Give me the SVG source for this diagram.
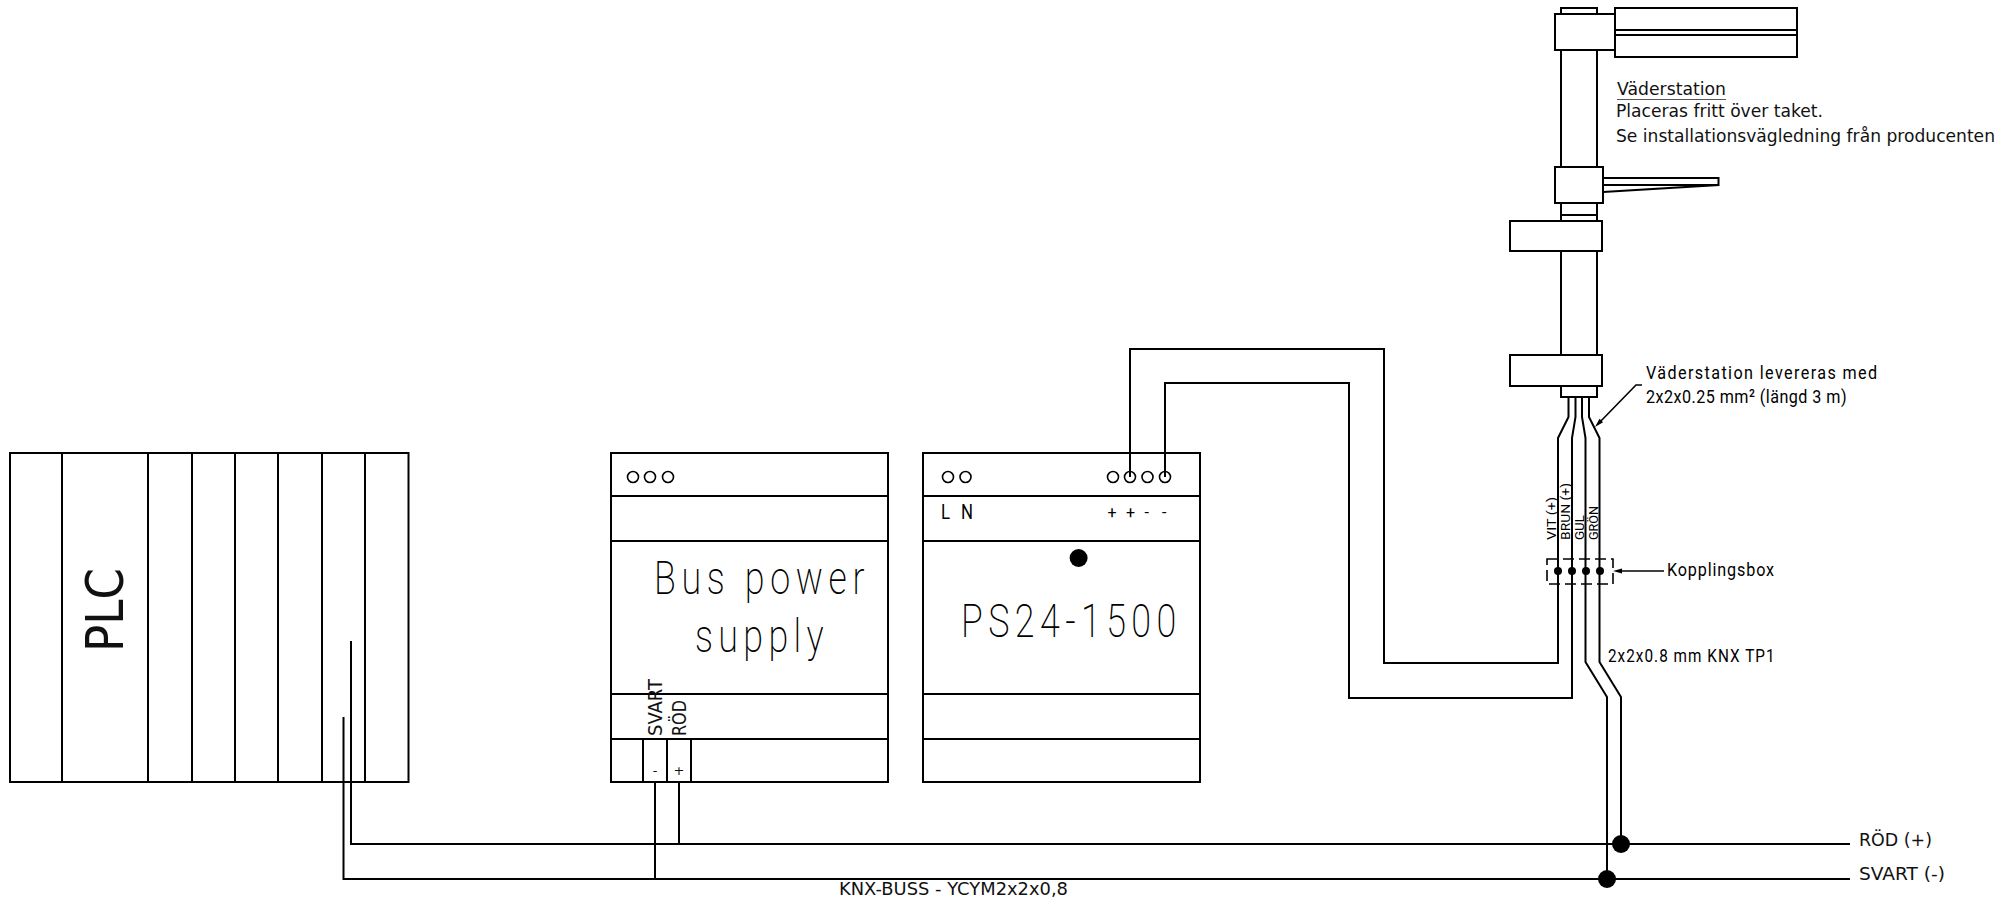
<svg xmlns="http://www.w3.org/2000/svg" width="2015" height="899" viewBox="0 0 2015 899">
<style>
.s{fill:none;stroke:#000;stroke-width:2}
.w{fill:#fff;stroke:#000;stroke-width:2}
.t{fill:none;stroke:#000;stroke-width:1.6}
.d{fill:#000;stroke:none}
.v{font-family:"DejaVu Sans",Verdana,sans-serif;fill:#111}
.n{font-family:"Roboto","Liberation Sans",sans-serif;font-weight:400;fill:#000}
.h{font-family:"Roboto","Liberation Sans",sans-serif;font-weight:200;fill:#000}
</style>
<rect width="2015" height="899" fill="#fff"/>
<g id="connectors">
<path class="s" d="M351 641V844H1850"/>
<path class="s" d="M343.500 717V879H1850"/>
<path class="s" d="M655 782V879M679 782V844"/>
<path class="s" d="M1130 477V349H1384V663H1558V438L1568.500 417V397"/>
<path class="s" d="M1165 477V383H1349V698H1572V438L1575.500 417V397"/>
<path class="s" d="M1582 397V417L1585.500 438V662L1607 697V879"/>
<path class="s" d="M1589 397V417L1599.500 438V662L1621 697V844"/>
<circle class="d" cx="1621" cy="844" r="9"/>
<circle class="d" cx="1607" cy="879" r="9"/>
<path class="t" d="M1642 385H1636L1598 424"/>
<path class="d" d="M1595 427L1603.100 422.200L1599.500 418.800Z"/>
<path class="t" d="M1664 571H1618"/>
<path class="d" d="M1613 571L1622 568.500V573.500Z"/>
</g>
<g id="plc">
<rect class="s" x="10" y="453" width="398.500" height="329"/>
<path class="s" d="M62 453V782M148 453V782M192 453V782M235 453V782M278 453V782M322 453V782M365 453V782"/>
<text class="v" transform="translate(123 652) rotate(-90)" font-size="52" textLength="84" lengthAdjust="spacingAndGlyphs">PLC</text>
</g>
<g id="bus-power-supply">
<rect class="s" x="611" y="453" width="277" height="329"/>
<path class="s" d="M611 496H888M611 541H888M611 694H888M611 739H888M643 739V782M667 739V782M691 739V782"/>
<circle class="t" cx="633" cy="477" r="5.500"/>
<circle class="t" cx="650" cy="477" r="5.500"/>
<circle class="t" cx="668" cy="477" r="5.500"/>
<text class="h" transform="translate(654 594) scale(.78 1)" font-size="46" textLength="270" lengthAdjust="spacing">Bus power</text>
<text class="h" transform="translate(695 652) scale(.78 1)" font-size="46" textLength="165" lengthAdjust="spacing">supply</text>
<text class="v" transform="translate(661.500 736) rotate(-90)" font-size="19" textLength="57" lengthAdjust="spacingAndGlyphs">SVART</text>
<text class="v" transform="translate(686 736) rotate(-90)" font-size="19" textLength="36" lengthAdjust="spacingAndGlyphs">RÖD</text>
<text class="v" x="655" y="775" font-size="13" text-anchor="middle">-</text>
<text class="v" x="679" y="775" font-size="13" text-anchor="middle">+</text>
</g>
<g id="ps24-1500">
<rect class="s" x="923" y="453" width="277" height="329"/>
<path class="s" d="M923 496H1200M923 541H1200M923 694H1200M923 739H1200"/>
<circle class="t" cx="948" cy="477" r="5.500"/>
<circle class="t" cx="965.500" cy="477" r="5.500"/>
<circle class="t" cx="1113" cy="477" r="5.500"/>
<circle class="t" cx="1130" cy="477" r="5.500"/>
<circle class="t" cx="1147.500" cy="477" r="5.500"/>
<circle class="t" cx="1165" cy="477" r="5.500"/>
<text class="n" transform="translate(941 519) scale(.8 1)" font-size="21" textLength="40" lengthAdjust="spacing" font-weight="300">L N</text>
<text class="n" x="1107.500 1118 1126 1136 1144.500 1153 1162" y="518" font-size="16" font-weight="500">+ + - -</text>
<circle class="d" cx="1078.600" cy="558" r="9"/>
<text class="h" transform="translate(961 637) scale(.78 1)" font-size="46" textLength="276" lengthAdjust="spacing">PS24-1500</text>
</g>
<g id="vaderstation">
<rect class="w" x="1561" y="8" width="36" height="389"/>
<path class="s" d="M1561 215H1597"/>
<rect class="w" x="1555" y="14" width="60" height="36"/>
<rect class="s" x="1615" y="8" width="182" height="49"/>
<path class="s" d="M1615 30H1797M1615 35H1797"/>
<path class="s" d="M1603 178H1718.500V185L1603 192M1603 185H1718.500"/>
<rect class="w" x="1555" y="167" width="48" height="36"/>
<rect class="w" x="1510" y="221" width="92" height="30"/>
<rect class="w" x="1510" y="355" width="92" height="31"/>
<text class="v" x="1617" y="95" font-size="17" textLength="109" lengthAdjust="spacingAndGlyphs">Väderstation</text>
<path d="M1617 99.500H1726" fill="none" stroke="#555" stroke-width="1"/>
<text class="v" x="1616" y="117" font-size="17" textLength="207" lengthAdjust="spacingAndGlyphs">Placeras fritt över taket.</text>
<text class="v" x="1616" y="142" font-size="17" textLength="379" lengthAdjust="spacingAndGlyphs">Se installationsvägledning från producenten</text>
</g>
<g id="kopplingsbox">
<rect x="1547" y="559" width="66" height="25" fill="none" stroke="#000" stroke-width="1.600" stroke-dasharray="11 5"/>
<circle class="d" cx="1558" cy="571" r="4"/>
<circle class="d" cx="1572" cy="571" r="4"/>
<circle class="d" cx="1586" cy="571" r="4"/>
<circle class="d" cx="1600" cy="571" r="4"/>
<text class="n" transform="translate(1667 576) scale(.85 1)" font-size="19" textLength="126" lengthAdjust="spacing">Kopplingsbox</text>
</g>
<g id="labels">
<text class="n" transform="translate(1646 379) scale(.85 1)" font-size="19" textLength="272" lengthAdjust="spacing">Väderstation levereras med</text>
<text class="n" transform="translate(1646 403) scale(.85 1)" font-size="19" textLength="236" lengthAdjust="spacing">2x2x0.25 mm² (längd 3 m)</text>
<text class="n" transform="translate(1608 662) scale(.85 1)" font-size="18" font-weight="300" textLength="196" lengthAdjust="spacing">2x2x0.8 mm KNX TP1</text>
<text class="n" transform="translate(1556 540) rotate(-90)" font-size="13" textLength="43" lengthAdjust="spacingAndGlyphs">VIT (+)</text>
<text class="n" transform="translate(1570 540) rotate(-90)" font-size="13" textLength="57" lengthAdjust="spacingAndGlyphs">BRUN (+)</text>
<text class="n" transform="translate(1584 540) rotate(-90)" font-size="13" textLength="25" lengthAdjust="spacingAndGlyphs">GUL</text>
<text class="n" transform="translate(1598 540) rotate(-90)" font-size="13" textLength="34" lengthAdjust="spacingAndGlyphs">GRÖN</text>
<text class="v" x="1859" y="846" font-size="17" textLength="73" lengthAdjust="spacingAndGlyphs">RÖD (+)</text>
<text class="v" x="1859" y="880" font-size="17" textLength="86" lengthAdjust="spacingAndGlyphs">SVART (-)</text>
<text class="v" x="839" y="895" font-size="17" textLength="229" lengthAdjust="spacingAndGlyphs">KNX-BUSS - YCYM2x2x0,8</text>
</g>
</svg>
